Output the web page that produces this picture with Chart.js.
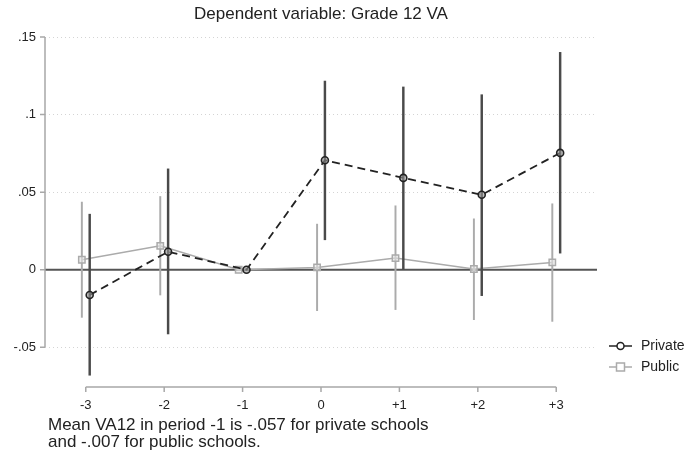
<!DOCTYPE html>
<html>
<head>
<meta charset="utf-8">
<script src="https://cdn.jsdelivr.net/npm/chart.js@4"></script>
<style>
  html, body { margin: 0; padding: 0; background: #fff; }
  #wrap { width: 688px; height: 459px; position: relative; }
</style>
</head>
<body>
<div id="wrap"><canvas id="c"></canvas></div>
<script>
// event time relative to the switch
const periods = [-3, -2, -1, 0, 1, 2, 3];
const periodLabels = ['-3', '-2', '-1', '0', '+1', '+2', '+3'];

// private schools: point estimate and 95% CI
const privEst = [-0.0163, 0.0116, 0, 0.0706, 0.0592, 0.0483, 0.0753];
const privLo  = [-0.0680, -0.0414, null, 0.0193, 0.0000, -0.0167, 0.0107];
const privHi  = [0.0358, 0.0650, null, 0.1216, 0.1178, 0.1128, 0.1401];

// public schools
const pubEst = [0.0064, 0.0154, 0, 0.0015, 0.0075, 0.0005, 0.0047];
const pubLo  = [-0.0307, -0.0163, null, -0.0264, -0.0257, -0.0322, -0.0333];
const pubHi  = [0.0436, 0.0472, null, 0.0294, 0.0412, 0.0328, 0.0425];

const yTicks = [-0.05, 0, 0.05, 0.1, 0.15];
const yTickLabels = ['-.05', '0', '.05', '.1', '.15'];

const titleText = 'Dependent variable: Grade 12 VA';
const noteLines = ['Mean VA12 in period -1 is -.057 for private schools', 'and -.007 for public schools.'];

const FONT = '"Liberation Sans", Arial, sans-serif';
const privColor = '#222222';
const privCiColor = '#4a4a4a';
const pubColor = '#ababab';
const shift = 0.05; // horizontal dodge between the two groups

function points(est, dx) {
    return periods.map((p, i) => ({ x: p + dx, y: est[i] }));
}
function ranges(lo, hi, dx) {
    return periods.map((p, i) => ({ x: p + dx, y: lo[i] === null ? null : [lo[i], hi[i]] }));
}

// custom plugin: title, zero line, axes lines, legend, note
const decor = {
    id: 'decor',
    beforeDatasetsDraw: (chart) => {
        const ctx = chart.ctx;
        const x = chart.scales.x;
        const y = chart.scales.y;
        const area = chart.chartArea;

        // zero reference line
        ctx.save();
        ctx.strokeStyle = '#555';
        ctx.lineWidth = 2;
        ctx.beginPath();
        ctx.moveTo(area.left, y.getPixelForValue(0));
        ctx.lineTo(area.right, y.getPixelForValue(0));
        ctx.stroke();
        ctx.restore();

        // y axis line over the tick range, with tick marks
        const yTop = y.getPixelForValue(yTicks[yTicks.length - 1]);
        const yBot = y.getPixelForValue(yTicks[0]);
        ctx.save();
        ctx.strokeStyle = '#a8a8a8';
        ctx.lineWidth = 1.5;
        ctx.beginPath();
        ctx.moveTo(area.left, yTop);
        ctx.lineTo(area.left, yBot);
        yTicks.forEach((t) => {
            const py = y.getPixelForValue(t);
            ctx.moveTo(area.left - 5, py);
            ctx.lineTo(area.left, py);
        });
        ctx.stroke();

        // x axis line sits below the plot region
        const axY = area.bottom + 11;
        ctx.beginPath();
        ctx.moveTo(x.getPixelForValue(periods[0]), axY);
        ctx.lineTo(x.getPixelForValue(periods[periods.length - 1]), axY);
        periods.forEach((p) => {
            const px = x.getPixelForValue(p);
            ctx.moveTo(px, axY);
            ctx.lineTo(px, axY + 5);
        });
        ctx.stroke();
        ctx.restore();
    },
    afterDraw: (chart) => {
        const ctx = chart.ctx;
        const area = chart.chartArea;

        // title
        ctx.save();
        ctx.font = '17px ' + FONT;
        ctx.fillStyle = '#222';
        ctx.textAlign = 'center';
        ctx.textBaseline = 'middle';
        ctx.fillText(titleText, (area.left + area.right) / 2, 14);
        ctx.restore();

        // legend
        const items = [
            { label: chart.data.datasets[0].label, color: privColor, shape: 'circle', y: 346 },
            { label: chart.data.datasets[2].label, color: pubColor, shape: 'rect', y: 367 }
        ];
        items.forEach((it) => {
            ctx.save();
            ctx.strokeStyle = it.color;
            ctx.lineWidth = 1.5;
            ctx.beginPath();
            ctx.moveTo(609, it.y);
            ctx.lineTo(632, it.y);
            ctx.stroke();
            ctx.fillStyle = '#fff';
            ctx.beginPath();
            if (it.shape === 'circle') {
                ctx.arc(620.5, it.y, 3.5, 0, Math.PI * 2);
            } else {
                ctx.rect(616.5, it.y - 4, 8, 8);
            }
            ctx.fill();
            ctx.stroke();
            ctx.font = '14px ' + FONT;
            ctx.fillStyle = '#222';
            ctx.textAlign = 'left';
            ctx.textBaseline = 'middle';
            ctx.fillText(it.label, 641, it.y);
            ctx.restore();
        });

        // note under the axis
        ctx.save();
        ctx.font = '17px ' + FONT;
        ctx.fillStyle = '#222';
        ctx.textAlign = 'left';
        ctx.textBaseline = 'middle';
        noteLines.forEach((line, i) => {
            ctx.fillText(line, 48, 425 + i * 17.5);
        });
        ctx.restore();
    }
};

new Chart(document.getElementById('c'), {
    data: {
        datasets: [
            {
                type: 'line',
                label: 'Private',
                data: points(privEst, shift),
                borderColor: privColor,
                borderWidth: 1.8,
                borderDash: [8, 5],
                pointStyle: 'circle',
                pointRadius: 3.5,
                pointBorderWidth: 1.6,
                pointBorderColor: privColor,
                pointBackgroundColor: 'rgba(150,150,150,0.6)',
                order: 0
            },
            {
                type: 'bar',
                label: 'Private CI',
                data: ranges(privLo, privHi, shift),
                backgroundColor: privCiColor,
                barThickness: 1.8,
                grouped: false,
                order: 1
            },
            {
                type: 'line',
                label: 'Public',
                data: points(pubEst, -shift),
                borderColor: pubColor,
                borderWidth: 1.5,
                pointStyle: 'rect',
                pointRadius: 4.5,
                pointBorderWidth: 1.5,
                pointBorderColor: pubColor,
                pointBackgroundColor: 'rgba(230,230,230,0.6)',
                order: 2
            },
            {
                type: 'bar',
                label: 'Public CI',
                data: ranges(pubLo, pubHi, -shift),
                backgroundColor: pubColor,
                barThickness: 1.3,
                grouped: false,
                order: 3
            }
        ]
    },
    options: {
        responsive: true,
        maintainAspectRatio: false,
        animation: false,
        plugins: {
            legend: { display: false },
            tooltip: { enabled: false },
            title: { display: false }
        },
        layout: {
            padding: { top: 37, right: 91, left: 0, bottom: 0 }
        },
        scales: {
            x: {
                type: 'linear',
                offset: false,
                min: -3.52,
                max: 3.52,
                afterBuildTicks: (scale) => {
                    scale.ticks = periods.map((p) => ({ value: p }));
                },
                afterFit: (scale) => {
                    scale.height = 83;
                },
                grid: { display: false, drawTicks: false },
                border: { display: false },
                ticks: {
                    autoSkip: false,
                    maxRotation: 0,
                    padding: 22,
                    color: '#222',
                    font: { family: FONT, size: 13 },
                    callback: (v) => periodLabels[periods.indexOf(v)]
                }
            },
            y: {
                min: -0.0685,
                max: 0.15,
                afterBuildTicks: (scale) => {
                    scale.ticks = yTicks.map((t) => ({ value: t }));
                },
                afterFit: (scale) => {
                    scale.width = 45;
                },
                grid: {
                    drawTicks: false,
                    color: (c) => (c.tick && c.tick.value === 0 ? 'rgba(0,0,0,0)' : '#d4d4d4'),
                    lineWidth: 1
                },
                border: { display: false, dash: [1, 3] },
                ticks: {
                    padding: 9,
                    color: '#222',
                    font: { family: FONT, size: 13 },
                    callback: (v) => yTickLabels[yTicks.indexOf(v)]
                }
            }
        }
    },
    plugins: [decor]
});
</script>
</body>
</html>
